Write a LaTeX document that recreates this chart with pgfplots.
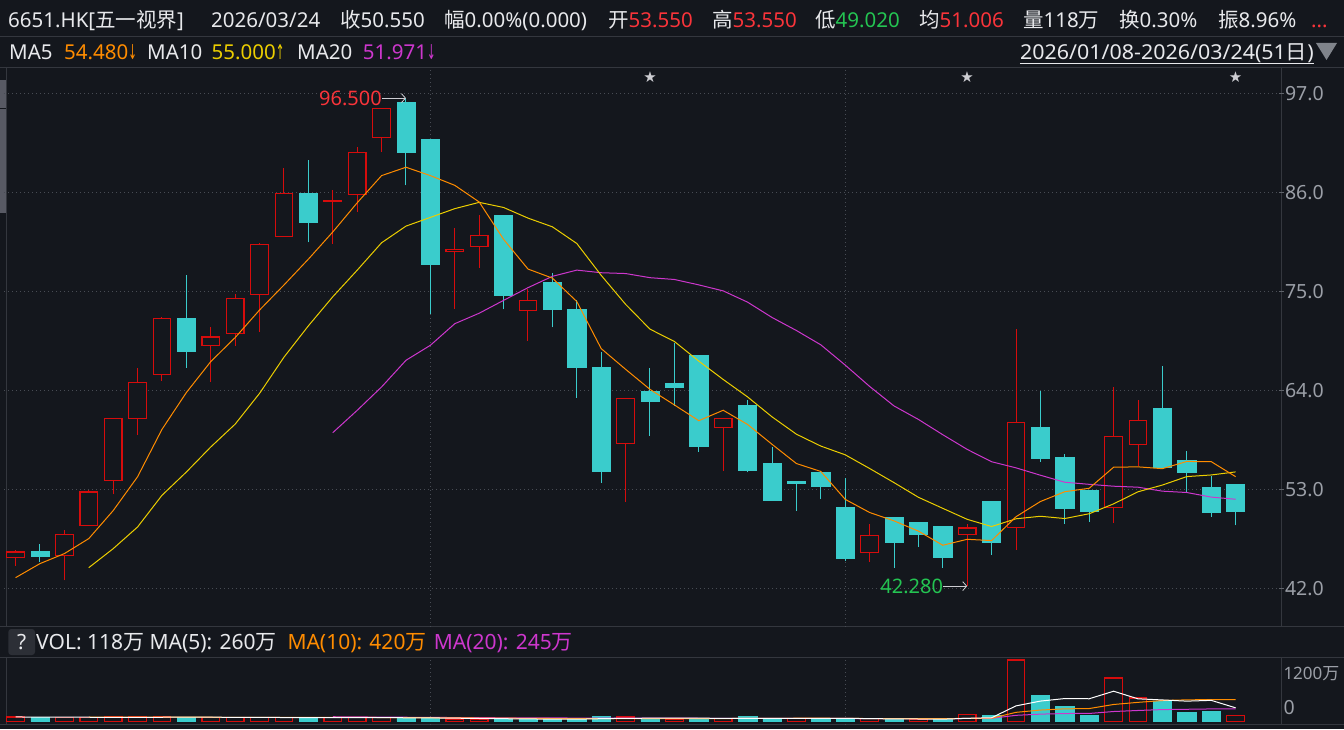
\documentclass[border=0pt]{standalone}
\usepackage{fontspec}
\usepackage{graphicx}
\usepackage{pgfplots}
\pgfplotsset{compat=1.18}
\usepackage{pgfplotstable}
\usetikzlibrary{arrows.meta}
\setmainfont{Noto Sans}
\newfontfamily\cjk{Noto Sans CJK SC}
\newfontfamily\symf{DejaVu Sans}

\definecolor{bg}{RGB}{20,23,29}
\definecolor{gridc}{RGB}{72,76,84}
\definecolor{linec}{RGB}{52,55,62}
\definecolor{tickc}{RGB}{95,99,106}
\definecolor{txt}{RGB}{232,233,236}
\definecolor{axtxt}{RGB}{155,159,167}
\definecolor{upred}{RGB}{214,12,12}
\definecolor{dncyan}{RGB}{58,204,204}
\definecolor{hired}{RGB}{250,52,58}
\definecolor{hgreen}{RGB}{36,196,82}
\definecolor{ma5c}{RGB}{255,140,0}
\definecolor{ma10c}{RGB}{236,206,0}
\definecolor{ma20c}{RGB}{205,55,205}
\definecolor{annc}{RGB}{205,205,210}
\definecolor{thumb}{RGB}{88,90,100}
\definecolor{qbox}{RGB}{44,47,54}

\newcommand\hf{\fontsize{20.5}{24}\selectfont}
\newcommand\vf{\fontsize{21}{24}\selectfont}
\newcommand\af{\fontsize{19.5}{22}\selectfont}
\newcommand\dn{{\symf\scalebox{0.5}[1]{↓}}}
\newcommand\up{{\symf\scalebox{0.5}[1]{↑}}}

% candles: index, open, high, low, close
\pgfplotstableread{
i o h l c
0 45.44 46.26 44.52 46.07
1 46.15 46.93 44.96 45.63
2 45.67 48.48 42.93 48.00
3 49.00 52.93 49.00 52.74
4 54.00 60.89 52.48 60.89
5 60.89 66.48 59.07 64.89
6 65.78 72.22 65.07 72.00
7 72.00 76.81 66.52 68.41
8 69.00 71.04 64.96 69.96
9 70.33 74.78 68.96 74.22
10 74.67 80.44 70.52 80.22
11 81.11 88.70 81.11 85.89
12 85.89 89.59 80.48 82.74
13 85.00 86.26 80.30 85.07
14 85.78 91.07 83.85 90.44
15 92.11 95.44 90.52 95.33
16 96.04 96.50 86.81 90.52
17 91.93 91.93 72.52 78.07
18 79.44 82.04 73.07 79.67
19 80.00 83.48 77.63 81.22
20 83.48 83.48 73.04 74.59
21 72.89 75.33 69.52 74.00
22 76.04 77.07 71.04 73.04
23 73.04 74.04 63.19 66.63
24 66.59 68.26 53.74 55.07
25 58.11 63.11 51.63 63.11
26 63.93 66.48 58.96 62.85
27 64.81 69.33 62.30 64.41
28 67.93 67.93 57.19 57.85
29 59.89 61.00 55.07 60.89
30 62.37 62.93 54.93 55.19
31 55.93 57.74 51.85 51.85
32 53.89 53.89 50.63 53.74
33 54.93 54.93 51.96 53.41
34 51.04 54.26 45.07 45.41
35 46.00 49.15 44.96 47.89
36 49.93 49.93 44.30 47.19
37 49.37 49.37 46.63 48.07
38 48.93 48.93 44.30 45.52
39 48.00 49.22 42.28 48.74
40 51.70 51.70 45.74 47.19
41 48.81 70.81 46.30 60.44
42 59.93 63.93 56.07 56.52
43 56.59 56.93 49.19 50.96
44 52.93 52.93 49.41 50.63
45 51.04 64.37 49.30 58.89
46 58.00 62.93 55.63 60.67
47 62.04 66.74 55.30 55.52
48 56.26 57.30 52.70 54.96
49 53.26 54.52 49.96 50.52
50 53.55 53.55 49.02 50.55
}\ohlc

% moving averages of the close
\pgfplotstableread{
i ma5 ma10 ma20
0 43.22 nan nan
1 44.78 nan nan
2 45.89 nan nan
3 47.56 44.33 nan
4 50.67 46.44 nan
5 54.43 48.85 nan
6 59.70 52.37 nan
7 63.79 54.96 nan
8 67.23 57.74 nan
9 69.90 60.28 nan
10 72.96 63.70 nan
11 75.74 67.72 nan
12 78.61 71.20 nan
13 81.63 74.43 59.33
14 84.87 77.38 61.81
15 87.89 80.43 64.41
16 88.82 82.28 67.37
17 87.89 83.25 69.04
18 86.81 84.22 71.44
19 84.96 84.92 72.60
20 80.81 84.35 74.03
21 77.51 83.17 75.44
22 76.50 82.20 76.70
23 73.90 80.35 77.39
24 68.67 76.81 77.10
25 66.37 73.59 77.01
26 64.14 70.83 76.55
27 62.41 69.46 76.35
28 60.66 67.28 75.75
29 61.82 65.24 75.08
30 60.24 63.30 73.83
31 58.04 61.09 72.13
32 55.90 59.16 70.68
33 55.02 57.84 69.09
34 51.92 56.87 66.84
35 50.46 55.35 64.47
36 49.53 53.78 62.30
37 48.39 52.15 60.80
38 46.82 50.92 59.10
39 47.48 49.70 57.47
40 47.34 48.90 56.10
41 49.99 49.76 55.42
42 51.68 50.04 54.60
43 52.77 49.79 53.82
44 53.15 50.32 53.59
45 55.49 51.42 53.38
46 55.53 52.76 53.27
47 55.33 53.51 52.83
48 56.13 54.45 52.68
49 56.11 54.63 52.17
50 54.44 54.97 51.93
}\mas

% volume (10k shares), up flag, and its moving averages
\pgfplotstableread{
i v up vma5 vma10 vma20
0 85 1 85 nan nan
1 72 0 84 nan nan
2 72 1 82 nan nan
3 72 1 80 84 nan
4 85 1 77.2 84 nan
5 85 1 77.2 83 nan
6 85 1 79.8 82 nan
7 78 0 81 81 nan
8 72 1 81 80 nan
9 72 1 78.4 77.8 nan
10 72 1 75.8 76.5 nan
11 80 1 74.8 77.3 nan
12 72 0 73.6 77.3 nan
13 72 1 73.6 77.3 90
14 72 1 73.6 76 86
15 72 1 73.6 74.7 83
16 60 0 69.6 72.2 80
17 60 0 67.2 70.4 77
18 46 1 62 67.8 74
19 39 1 55.4 64.5 71.2
20 52 0 51.4 62.5 69.5
21 39 0 47.2 58.4 67.9
22 39 0 43 55.1 66.2
23 39 0 41.6 51.8 64.6
24 91 0 52 53.7 64.9
25 85 1 58.6 55 64.9
26 52 0 61.2 54.2 63.2
27 39 1 61.2 52.1 61.3
28 52 0 63.8 52.7 60.3
29 52 1 56 54 59.3
30 91 0 57.2 57.9 60.2
31 52 0 57.2 59.2 58.8
32 52 1 59.8 60.5 57.8
33 52 0 59.8 61.8 56.8
34 52 0 59.8 57.9 55.8
35 52 1 52 54.6 54.8
36 39 0 49.4 53.3 53.8
37 33 1 45.6 52.7 52.4
38 39 0 43 51.4 52.1
39 130 1 58.6 59.2 56.6
40 110 0 70.2 61.1 59.5
41 1196 1 301.6 175.5 117.4
42 500 0 395 220.3 140.4
43 286 0 444.4 243.7 152.8
44 110 0 440.4 249.5 153.7
45 845 1 587.4 328.8 191.7
46 455 1 439.2 370.4 211.9
47 390 0 417.2 406.1 229.4
48 169 0 393.8 419.1 235.3
49 188 0 409.4 424.9 242.1
50 118 1 264 425.7 243.4
}\vol

\newcommand\hdr[3]{\node[anchor=base west, inner sep=0pt, font=\hf, text=txt] at (#1,#2) {#3};}
\newcommand\vdr[3]{\node[anchor=base west, inner sep=0pt, font=\vf, text=txt] at (#1,#2) {#3};}

\begin{document}
\begin{tikzpicture}[x=1pt,y=1pt]
\path[use as bounding box] (0,0) rectangle (1344,729);
\fill[bg] (0,0) rectangle (1344,729);

% panel separators
\foreach \yy in {692.5,661.7,102.3,71.7,5}{\draw[linec, line width=1pt] (0,\yy) -- (1344,\yy);}
\draw[linec, line width=1pt] (1281.5,661.7) -- (1281.5,102.3);
\draw[linec, line width=1pt] (1281.5,71.7) -- (1281.5,5);
\draw[linec, line width=1pt] (6.5,661.7) -- (6.5,102.3);
\draw[linec, line width=1pt] (6.5,71.7) -- (6.5,5);
\fill[thumb] (0,621) rectangle (5.5,649);
\fill[thumb] (0,516) rectangle (5.5,619.5);

% header row 1
\hdr{8}{701.7}{6651.HK[{\cjk 五一视界}]}
\hdr{211}{701.7}{2026/03/24}
\hdr{340}{701.7}{{\cjk 收}50.550}
\hdr{444}{701.7}{{\cjk 幅}0.00\%(0.000)}
\hdr{608}{701.7}{{\cjk 开}\textcolor{hired}{53.550}}
\hdr{712}{701.7}{{\cjk 高}\textcolor{hired}{53.550}}
\hdr{815}{701.7}{{\cjk 低}\textcolor{hgreen}{49.020}}
\hdr{919}{701.7}{{\cjk 均}\textcolor{hired}{51.006}}
\hdr{1023}{701.7}{{\cjk 量}118{\cjk 万}}
\hdr{1119}{701.7}{{\cjk 换}0.30\%}
\hdr{1218}{701.7}{{\cjk 振}8.96\%}
\hdr{1311}{701.7}{\textcolor{hired}{...}}

% header row 2
\hdr{9}{669}{MA5}
\hdr{64}{669}{\textcolor{ma5c}{54.480\dn}}
\hdr{147}{669}{MA10}
\hdr{211.5}{669}{\textcolor{ma10c}{55.000\up}}
\hdr{297}{669}{MA20}
\hdr{362.7}{669}{\textcolor{ma20c}{51.971\dn}}
\node[anchor=base east, inner sep=0pt, font=\hf, text=txt] (dr) at (1314,669) {\scalebox{1.045}[1]{2026/01/08-2026/03/24(51{\cjk 日})}};
\draw[txt, line width=0.9pt] ([yshift=-3pt]dr.base west) -- ([yshift=-3pt]dr.base east);
\fill[axtxt!80!bg] (1316,686) -- (1337,686) -- (1326.5,669) -- cycle;

% volume header
\fill[qbox, rounded corners=3pt] (8.3,74) rectangle (35,100);
\node[font=\vf, text=txt] at (21.6,87) {?};
\vdr{36}{79.7}{VOL: 118{\cjk 万} MA(5): 260{\cjk 万}}
\vdr{287.3}{79.7}{\textcolor{ma5c}{MA(10): 420{\cjk 万}}}
\vdr{433.6}{79.7}{\textcolor{ma20c}{MA(20): 245{\cjk 万}}}

% ---------------- price panel ----------------
\begin{axis}[
  at={(15.5,113.3)}, anchor=south west, scale only axis,
  width=1275pt, height=559.4pt,
  xmin=-0.4836, xmax=51.77, ymin=37.733, ymax=99.889,
  axis line style={draw=none},
  xtick={17,34}, xticklabels={}, xtick style={draw=none},
  ytick={42,53,64,75,86,97}, ytick pos=right, yticklabel pos=right,
  tick align=outside, major tick length=5pt,
  ytick style={tickc, line width=1pt},
  xmajorgrids, ymajorgrids,
  grid style={gridc, line width=0.9pt, dash pattern=on 1pt off 3pt},
  yticklabel style={font=\af, text=axtxt, inner sep=1pt,
    /pgf/number format/.cd, fixed, fixed zerofill, precision=1, assume math mode=true},
]
\pgfplotsinvokeforeach{0,...,50}{%
  \pgfplotstablegetelem{#1}{o}\of\ohlc \let\Ov\pgfplotsretval
  \pgfplotstablegetelem{#1}{h}\of\ohlc \let\Hv\pgfplotsretval
  \pgfplotstablegetelem{#1}{l}\of\ohlc \let\Lv\pgfplotsretval
  \pgfplotstablegetelem{#1}{c}\of\ohlc \let\Cv\pgfplotsretval
  \pgfmathtruncatemacro\isup{(\Cv>=\Ov) ? 1 : 0}%
  \ifnum\isup=1
    \pgfmathsetmacro\XL{#1-0.36}\pgfmathsetmacro\XR{#1+0.36}%
    \edef\doit{%
      \noexpand\addplot[upred, line width=1pt, forget plot] coordinates {(#1,\Lv) (#1,\Hv)};
      \noexpand\addplot[draw=upred, fill=bg, line width=1.2pt, forget plot] coordinates {(\XL,\Ov) (\XR,\Ov) (\XR,\Cv) (\XL,\Cv)} --cycle;
    }%
  \else
    \pgfmathsetmacro\XL{#1-0.375}\pgfmathsetmacro\XR{#1+0.375}%
    \edef\doit{%
      \noexpand\addplot[dncyan, line width=1pt, forget plot] coordinates {(#1,\Lv) (#1,\Hv)};
      \noexpand\addplot[draw=dncyan, fill=dncyan, line width=0.6pt, forget plot] coordinates {(\XL,\Ov) (\XR,\Ov) (\XR,\Cv) (\XL,\Cv)} --cycle;
    }%
  \fi
  \doit
}
\addplot[ma20c, line width=1pt, no markers] table[x=i, y=ma20] {\mas};
\addplot[ma10c, line width=1pt, no markers] table[x=i, y=ma10] {\mas};
\addplot[ma5c, line width=1pt, no markers] table[x=i, y=ma5] {\mas};

\draw[annc, line width=0.8pt, -{Straight Barb[length=4pt,width=9pt]}] ([xshift=-24pt]axis cs:16,96.5) -- (axis cs:16,96.5);
\node[anchor=east, inner sep=0pt, font=\fontsize{20}{22}\selectfont, text=hired] at ([xshift=-24pt]axis cs:16,96.5) {96.500};
\draw[annc, line width=0.8pt, -{Straight Barb[length=4pt,width=9pt]}] ([xshift=-24pt]axis cs:39,42.28) -- (axis cs:39,42.28);
\node[anchor=east, inner sep=0pt, font=\fontsize{20}{22}\selectfont, text=hgreen] at ([xshift=-24pt]axis cs:39,42.28) {42.280};

\node[text=annc, inner sep=0pt, font=\symf\fontsize{15}{15}\selectfont] at (axis cs:26,98.81) {★};
\node[text=annc, inner sep=0pt, font=\symf\fontsize{15}{15}\selectfont] at (axis cs:39,98.81) {★};
\node[text=annc, inner sep=0pt, font=\symf\fontsize{15}{15}\selectfont] at (axis cs:50,98.81) {★};
\end{axis}

% ---------------- volume panel ----------------
\begin{axis}[
  at={(15.5,8.5)}, anchor=south west, scale only axis,
  width=1275pt, height=66.7pt,
  xmin=-0.4836, xmax=51.77, ymin=-64.35, ymax=1236.3,
  axis line style={draw=none},
  xtick={17,34}, xticklabels={}, xtick style={draw=none}, xmajorgrids,
  grid style={gridc, line width=0.9pt, dash pattern=on 1pt off 3pt},
  ytick={273,936}, yticklabels={0,{\fontsize{17}{20}\selectfont 1200{\cjk 万}}}, ytick pos=right, yticklabel pos=right,
  major tick length=0pt, ytick style={draw=none},
  yticklabel style={font=\af, text=axtxt, inner sep=1pt, xshift=3.5pt},
]
\addplot[ybar, bar width=0.75, bar shift=0pt, draw=dncyan, fill=dncyan, line width=0.5pt,
  restrict expr to domain={\thisrow{up}}{-0.5:0.5}] table[x=i, y=v] {\vol};
\addplot[ybar, bar width=0.72, bar shift=0pt, draw=upred, fill=bg, line width=1.2pt,
  restrict expr to domain={\thisrow{up}}{0.5:1.5}] table[x=i, y=v] {\vol};
\addplot[ma20c, line width=1pt, no markers] table[x=i, y=vma20] {\vol};
\addplot[ma5c, line width=1pt, no markers] table[x=i, y=vma10] {\vol};
\addplot[white, line width=1pt, no markers] table[x=i, y=vma5] {\vol};
\end{axis}
\end{tikzpicture}
\end{document}
